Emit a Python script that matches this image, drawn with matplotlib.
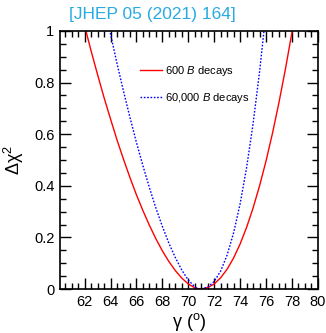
import matplotlib
matplotlib.use("Agg")
import matplotlib.pyplot as plt
from matplotlib.ticker import MultipleLocator

plt.rcParams['font.family'] = ['Liberation Sans', 'DejaVu Sans']
plt.rcParams['mathtext.fontset'] = 'custom'
plt.rcParams['mathtext.rm'] = 'Liberation Sans'
plt.rcParams['mathtext.it'] = 'Liberation Sans:italic'

# delta chi2 scan, 600 B decays
gamma_600 = [62.0, 62.5, 63.0, 63.5, 64.0, 64.5, 65.0, 65.5, 66.0, 66.5, 67.0, 67.5,
             68.0, 68.5, 69.0, 69.5, 70.0, 70.5, 70.9, 71.0, 71.5, 72.0, 72.5, 73.0,
             73.5, 74.0, 74.5, 75.0, 75.5, 76.0, 76.5, 77.0, 77.5, 78.0, 78.5]
dchi2_600 = [1.020, 0.923, 0.831, 0.742, 0.659, 0.578, 0.503, 0.432, 0.365, 0.304, 0.247, 0.195,
             0.148, 0.107, 0.0716, 0.0423, 0.0198, 0.0049, 0.0, 0.0001, 0.0055, 0.0198, 0.0435, 0.0770,
             0.1206, 0.1744, 0.2388, 0.3138, 0.3996, 0.496, 0.604, 0.723, 0.853, 0.994, 1.146]

# delta chi2 scan, 60,000 B decays
gamma_60k = [63.5, 64.0, 64.5, 65.0, 65.5, 66.0, 66.5, 67.0, 67.5, 68.0, 68.5, 69.0,
             69.5, 70.0, 70.5, 70.85, 71.0, 71.5, 72.0, 72.5, 73.0, 73.5, 74.0, 74.5,
             75.0, 75.5, 76.0]
dchi2_60k = [1.106, 0.988, 0.874, 0.767, 0.665, 0.568, 0.478, 0.393, 0.314, 0.243, 0.178, 0.122,
             0.0735, 0.035, 0.0085, 0.0, 0.0002, 0.0075, 0.0294, 0.0699, 0.132, 0.218, 0.330, 0.470,
             0.640, 0.841, 1.074]

label_600 = "600 $B$ decays"
label_60k = "60,000 $B$ decays"

fig = plt.figure(figsize=(3.26, 3.33), dpi=100)
ax = fig.add_axes([0.184, 0.132, 0.791, 0.775])

ax.plot(gamma_600, dchi2_600, color='#ff0000', lw=1.0, label=label_600)
ax.plot(gamma_60k, dchi2_60k, color='#0000ff', lw=1.0, linestyle=(0, (1.2, 1.2)), label=label_60k)

ax.set_xlim(60.1, 80)
ax.set_ylim(0, 1)
ax.xaxis.set_major_locator(MultipleLocator(2))
ax.xaxis.set_minor_locator(MultipleLocator(0.5))
ax.yaxis.set_major_locator(MultipleLocator(0.2))
ax.yaxis.set_minor_locator(MultipleLocator(0.05))
ax.set_yticks([0, 0.2, 0.4, 0.6, 0.8, 1.0])
ax.set_yticklabels(["0", "0.2", "0.4", "0.6", "0.8", "1"])
ax.tick_params(which='both', direction='in', top=True, right=True, labelsize=10.5, width=1.0)
ax.tick_params(which='major', length=8, pad=4)
ax.tick_params(which='minor', length=4)
for s in ax.spines.values():
    s.set_linewidth(1.2)

ax.set_xlabel("γ ($^{\\rm o}$)", fontsize=13, labelpad=2)
ax.set_ylabel("Δχ$^2$", fontsize=13, labelpad=6)

ax.legend(loc='center left', bbox_to_anchor=(0.31, 0.793), frameon=False, fontsize=8,
          handlelength=2.0, handletextpad=0.3, labelspacing=1.2, borderpad=0, borderaxespad=0)

fig.text(152 / 326, 1 - 14 / 333, "[JHEP 05 (2021) 164]", color='#29abe2', fontsize=12.5,
         ha='center', va='center')

fig.savefig("out.png", dpi=100)
